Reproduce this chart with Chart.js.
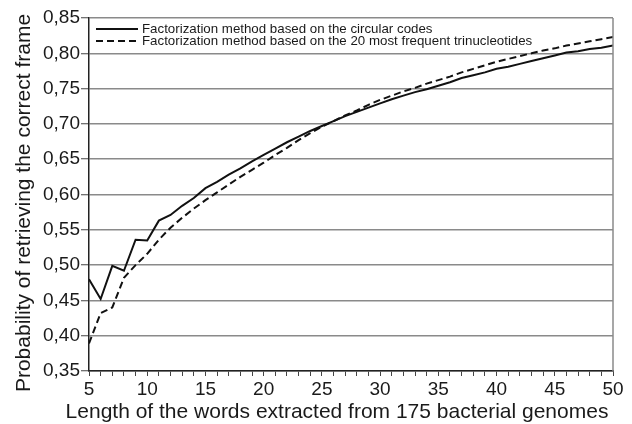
<!DOCTYPE html>
<html>
<head>
<meta charset="utf-8">
<style>
  html, body { margin: 0; padding: 0; background: #fff; }
  #wrap { width: 632px; height: 424px; }
</style>
<script src="https://cdn.jsdelivr.net/npm/chart.js@4.4.1/dist/chart.umd.min.js"></script>
</head>
<body>
<div id="wrap"><canvas id="chart" width="632" height="424"></canvas></div>
<script>
const wordLengths = [5, 6, 7, 8, 9, 10, 11, 12, 13, 14, 15, 16, 17, 18, 19, 20, 21, 22, 23, 24, 25, 26, 27,
  28, 29, 30, 31, 32, 33, 34, 35, 36, 37, 38, 39, 40, 41, 42, 43, 44, 45, 46, 47, 48, 49, 50];

const circularCodes = [0.480, 0.452, 0.499, 0.492, 0.536, 0.535, 0.563, 0.571, 0.584, 0.595, 0.609, 0.618,
  0.628, 0.637, 0.647, 0.656, 0.665, 0.674, 0.682, 0.690, 0.697, 0.704, 0.711, 0.717, 0.723, 0.729,
  0.735, 0.740, 0.745, 0.749, 0.754, 0.759, 0.765, 0.769, 0.773, 0.778, 0.781, 0.785, 0.789, 0.793,
  0.797, 0.801, 0.803, 0.806, 0.808, 0.811];

const frequentTrinucleotides = [0.389, 0.432, 0.440, 0.482, 0.500, 0.516, 0.536, 0.553, 0.567, 0.580, 0.592,
  0.603, 0.614, 0.625, 0.635, 0.645, 0.656, 0.666, 0.677, 0.687, 0.696, 0.704, 0.712, 0.719, 0.727,
  0.734, 0.740, 0.746, 0.751, 0.757, 0.762, 0.767, 0.773, 0.778, 0.783, 0.788, 0.792, 0.796, 0.800,
  0.804, 0.807, 0.811, 0.814, 0.817, 0.820, 0.823];

const seriesNames = [
  'Factorization method based on the circular codes',
  'Factorization method based on the 20 most frequent trinucleotides'
];

const xTitle = 'Length of the words extracted from 175 bacterial genomes';
const yTitle = 'Probability of retrieving the correct frame';

const FONT = '"Liberation Sans", Arial, sans-serif';

const toPoints = vals => wordLengths.map((x, i) => ({ x: x, y: vals[i] }));

// legend inside the plot (top-left), grey right edge of the frame, and the axis titles
// (the titles in the original sit a bit off-centre, so they are placed by hand)
const decorations = {
  id: 'decorations',
  afterDraw(chart) {
    const ctx = chart.ctx;
    const area = chart.chartArea;
    ctx.save();
    ctx.strokeStyle = '#8a8a8a';
    ctx.lineWidth = 1.5;
    ctx.beginPath();
    ctx.moveTo(area.right, area.top);
    ctx.lineTo(area.right, area.bottom);
    ctx.stroke();

    ctx.font = '13.3px ' + FONT;
    ctx.textBaseline = 'middle';
    ctx.textAlign = 'left';
    ctx.fillStyle = '#1a1a1a';
    chart.data.datasets.forEach((ds, i) => {
      const y = area.top + 11 + i * 12;
      ctx.strokeStyle = ds.borderColor;
      ctx.lineWidth = 2;
      ctx.setLineDash(ds.borderDash || []);
      ctx.beginPath();
      ctx.moveTo(area.left + 7, y);
      ctx.lineTo(area.left + 49, y);
      ctx.stroke();
      ctx.setLineDash([]);
      ctx.fillText(ds.label, area.left + 53, y + 0.5);
    });

    ctx.font = '21px ' + FONT;
    ctx.textAlign = 'center';
    ctx.fillText(xTitle, 337, 412);
    ctx.translate(24, 203);
    ctx.rotate(-Math.PI / 2);
    ctx.fillText(yTitle, 0, 0);
    ctx.restore();
  }
};

new Chart(document.getElementById('chart'), {
  type: 'line',
  data: {
    datasets: [{
      label: seriesNames[0],
      data: toPoints(circularCodes),
      borderColor: '#111',
      borderWidth: 2,
      pointRadius: 0,
      tension: 0
    }, {
      label: seriesNames[1],
      data: toPoints(frequentTrinucleotides),
      borderColor: '#111',
      borderWidth: 2,
      borderDash: [7, 4],
      pointRadius: 0,
      tension: 0
    }]
  },
  options: {
    responsive: false,
    animation: false,
    layout: { padding: { left: 0, top: 18, right: 19, bottom: 0 } },
    plugins: {
      legend: { display: false },
      tooltip: { enabled: false }
    },
    scales: {
      x: {
        type: 'linear',
        min: 5,
        max: 50,
        afterFit: s => { s.height = 53; },
        border: { color: '#222', width: 1.5 },
        grid: { drawOnChartArea: false, tickLength: 5, tickColor: '#444', tickWidth: 1 },
        ticks: {
          stepSize: 1,
          autoSkip: false,
          maxRotation: 0,
          padding: 2,
          color: '#1a1a1a',
          font: { family: FONT, size: 19 },
          callback: v => (v % 5 === 0 ? String(v) : '')
        }
      },
      y: {
        min: 0.35,
        max: 0.85,
        afterFit: s => { s.width = 89; },
        border: { color: '#222', width: 1.5 },
        grid: { color: '#8a8a8a', lineWidth: 1.5, tickLength: 8, tickColor: '#444', tickWidth: 1 },
        ticks: {
          stepSize: 0.05,
          padding: 1,
          color: '#1a1a1a',
          font: { family: FONT, size: 19 },
          callback: v => v.toFixed(2).replace('.', ',')
        }
      }
    }
  },
  plugins: [decorations]
});
</script>
</body>
</html>
